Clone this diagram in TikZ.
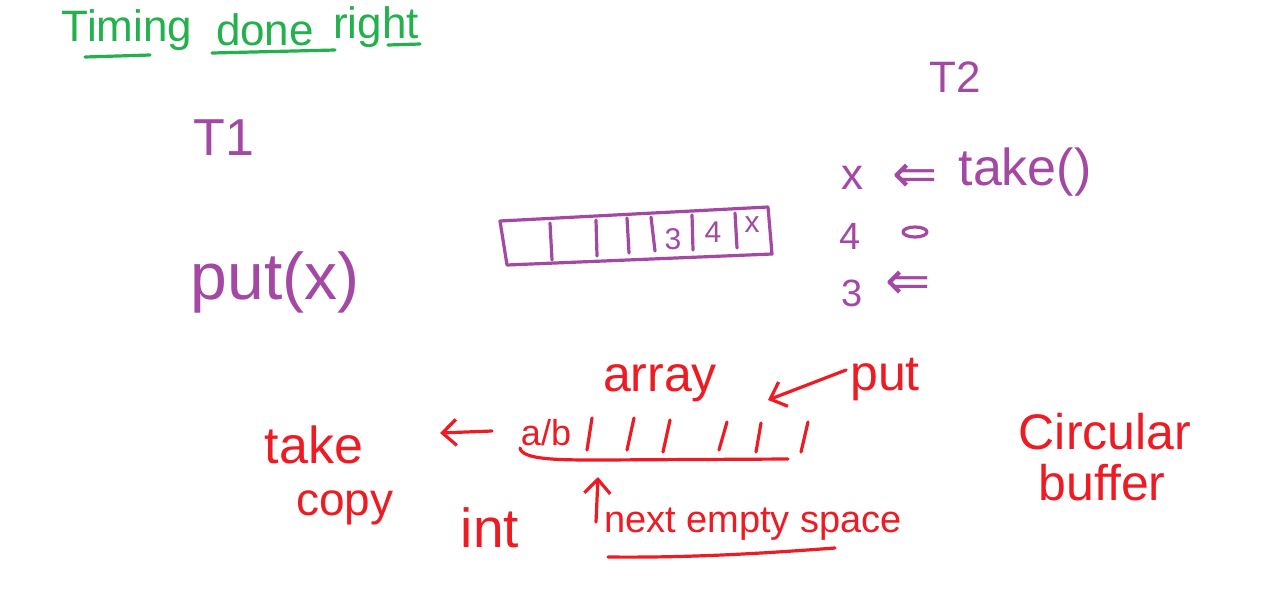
\documentclass[tikz,border=0pt]{standalone}
\usepackage{fontspec}
\setmainfont{Liberation Sans}
\newfontfamily\symfont{DejaVu Sans}
\usetikzlibrary{arrows.meta}
\definecolor{hgreen}{RGB}{34,177,76}
\definecolor{hpurple}{RGB}{163,73,164}
\definecolor{hred}{RGB}{237,28,36}
\newcommand\hfs[1]{\fontsize{#1}{#1}\selectfont}
\begin{document}
\begin{tikzpicture}[x=1pt,y=-1pt,
  lbl/.style={inner sep=0pt, anchor=center},
  pen/.style={line width=3.2pt, line cap=round, line join=round},
  arr/.style={pen, -{Straight Barb[length=14pt,width=26pt,line width=3.2pt]}},
  grn/.style={lbl, text=hgreen},
  pur/.style={lbl, text=hpurple},
  rd/.style={lbl, text=hred}]
\useasboundingbox (0,0) rectangle (1268,590);
\fill[white] (0,0) rectangle (1268,590);

% ---- title (green)
\node[grn, font=\hfs{44}] (timing) at (127,30) {Timing};
\node[grn, font=\hfs{44}] (done) at (265,30) {done};
\node[grn, font=\hfs{44}] (right) at (376,27) {right};
\draw[pen, hgreen] (85,57) -- (150,55);
\draw[pen, hgreen] (212,53) -- (335,50);
\draw[pen, hgreen] (388,45) -- (420,44);

% ---- threads (purple)
\node[pur, font=\hfs{52}] (t1) at (224,138) {T1};
\node[pur, font=\hfs{44}] (t2) at (955,77) {T2};
\node[pur, font=\hfs{66}] (putx) at (275,282) {put(x)};

% queue box
\draw[pen, hpurple] (500,221) -- (768,207) -- (772,254) -- (507,265) -- cycle;
\draw[pen, hpurple] (550,223) -- (552,260);
\draw[pen, hpurple] (596,220) -- (597,256);
\draw[pen, hpurple] (627,218) -- (629,253);
\draw[pen, hpurple] (651,217) -- (655,251);
\draw[pen, hpurple] (692,215) -- (693,250);
\draw[pen, hpurple] (735,213) -- (737,248);
\node[pur, font=\hfs{30}] (c3) at (673,239) {3};
\node[pur, font=\hfs{30}] (c4) at (713,232) {4};
\node[pur, font=\hfs{30}] (cx) at (752,225) {x};

% take list
\node[pur, font=\hfs{44}] (lx) at (852,178) {x};
\node[pur, font=\symfont\hfs{54}] (la1) at (915,178) {⇐};
\node[pur, font=\hfs{52}] (take) at (1025,172) {take()};
\node[pur, font=\hfs{38}] (l4) at (850,236) {4};
\draw[pen, hpurple] (915,232) ellipse (12pt and 5pt);
\node[pur, font=\hfs{38}] (l3) at (852,293) {3};
\node[pur, font=\symfont\hfs{54}] (la3) at (908,285) {⇐};

% ---- red notes
\node[rd, font=\hfs{50}] (array) at (660,383) {array};
\node[rd, font=\hfs{50}] (putr) at (885,380) {put};
\draw[arr, hred] (putr.west) ++(-4,-10) coordinate (pstart) (pstart) -- (768,400) coordinate (pend);

\node[rd, font=\hfs{52}] (taker) at (314,445) {take};
\node[rd, font=\hfs{46}] (copy) at (345,508) {copy};
\coordinate (ta) at (492,431);
\coordinate (tb) at (440,433);
\draw[arr, hred] (ta) -- (tb);

\node[rd, font=\hfs{36}] (ab) at (546,433) {a/b};
\draw[pen, hred] (592,418) -- (587,450);
\draw[pen, hred] (634,418) -- (627,450);
\draw[pen, hred] (670,420) -- (663,452);
\draw[pen, hred] (727,422) -- (719,450);
\draw[pen, hred] (761,423) -- (756,452);
\draw[pen, hred] (808,422) -- (801,452);
\draw[pen, hred] (520,448) .. controls (522,460) and (560,460) .. (600,460) -- (788,459);

\node[rd, font=\hfs{55}] (int) at (490,528) {int};
\node[rd, font=\hfs{38}] (nes) at (753,524) {next empty space};
\coordinate (ua) at (596,522);
\coordinate (ub) at (598,477);
\draw[arr, hred] (ua) -- (ub);
\draw[pen, hred] (608,557) .. controls (700,558) and (780,552) .. (835,548);

\node[rd, font=\hfs{50}] (circ) at (1105,432) {Circular};
\node[rd, font=\hfs{50}] (buf) at (1102,483) {buffer};
\end{tikzpicture}
\end{document}
